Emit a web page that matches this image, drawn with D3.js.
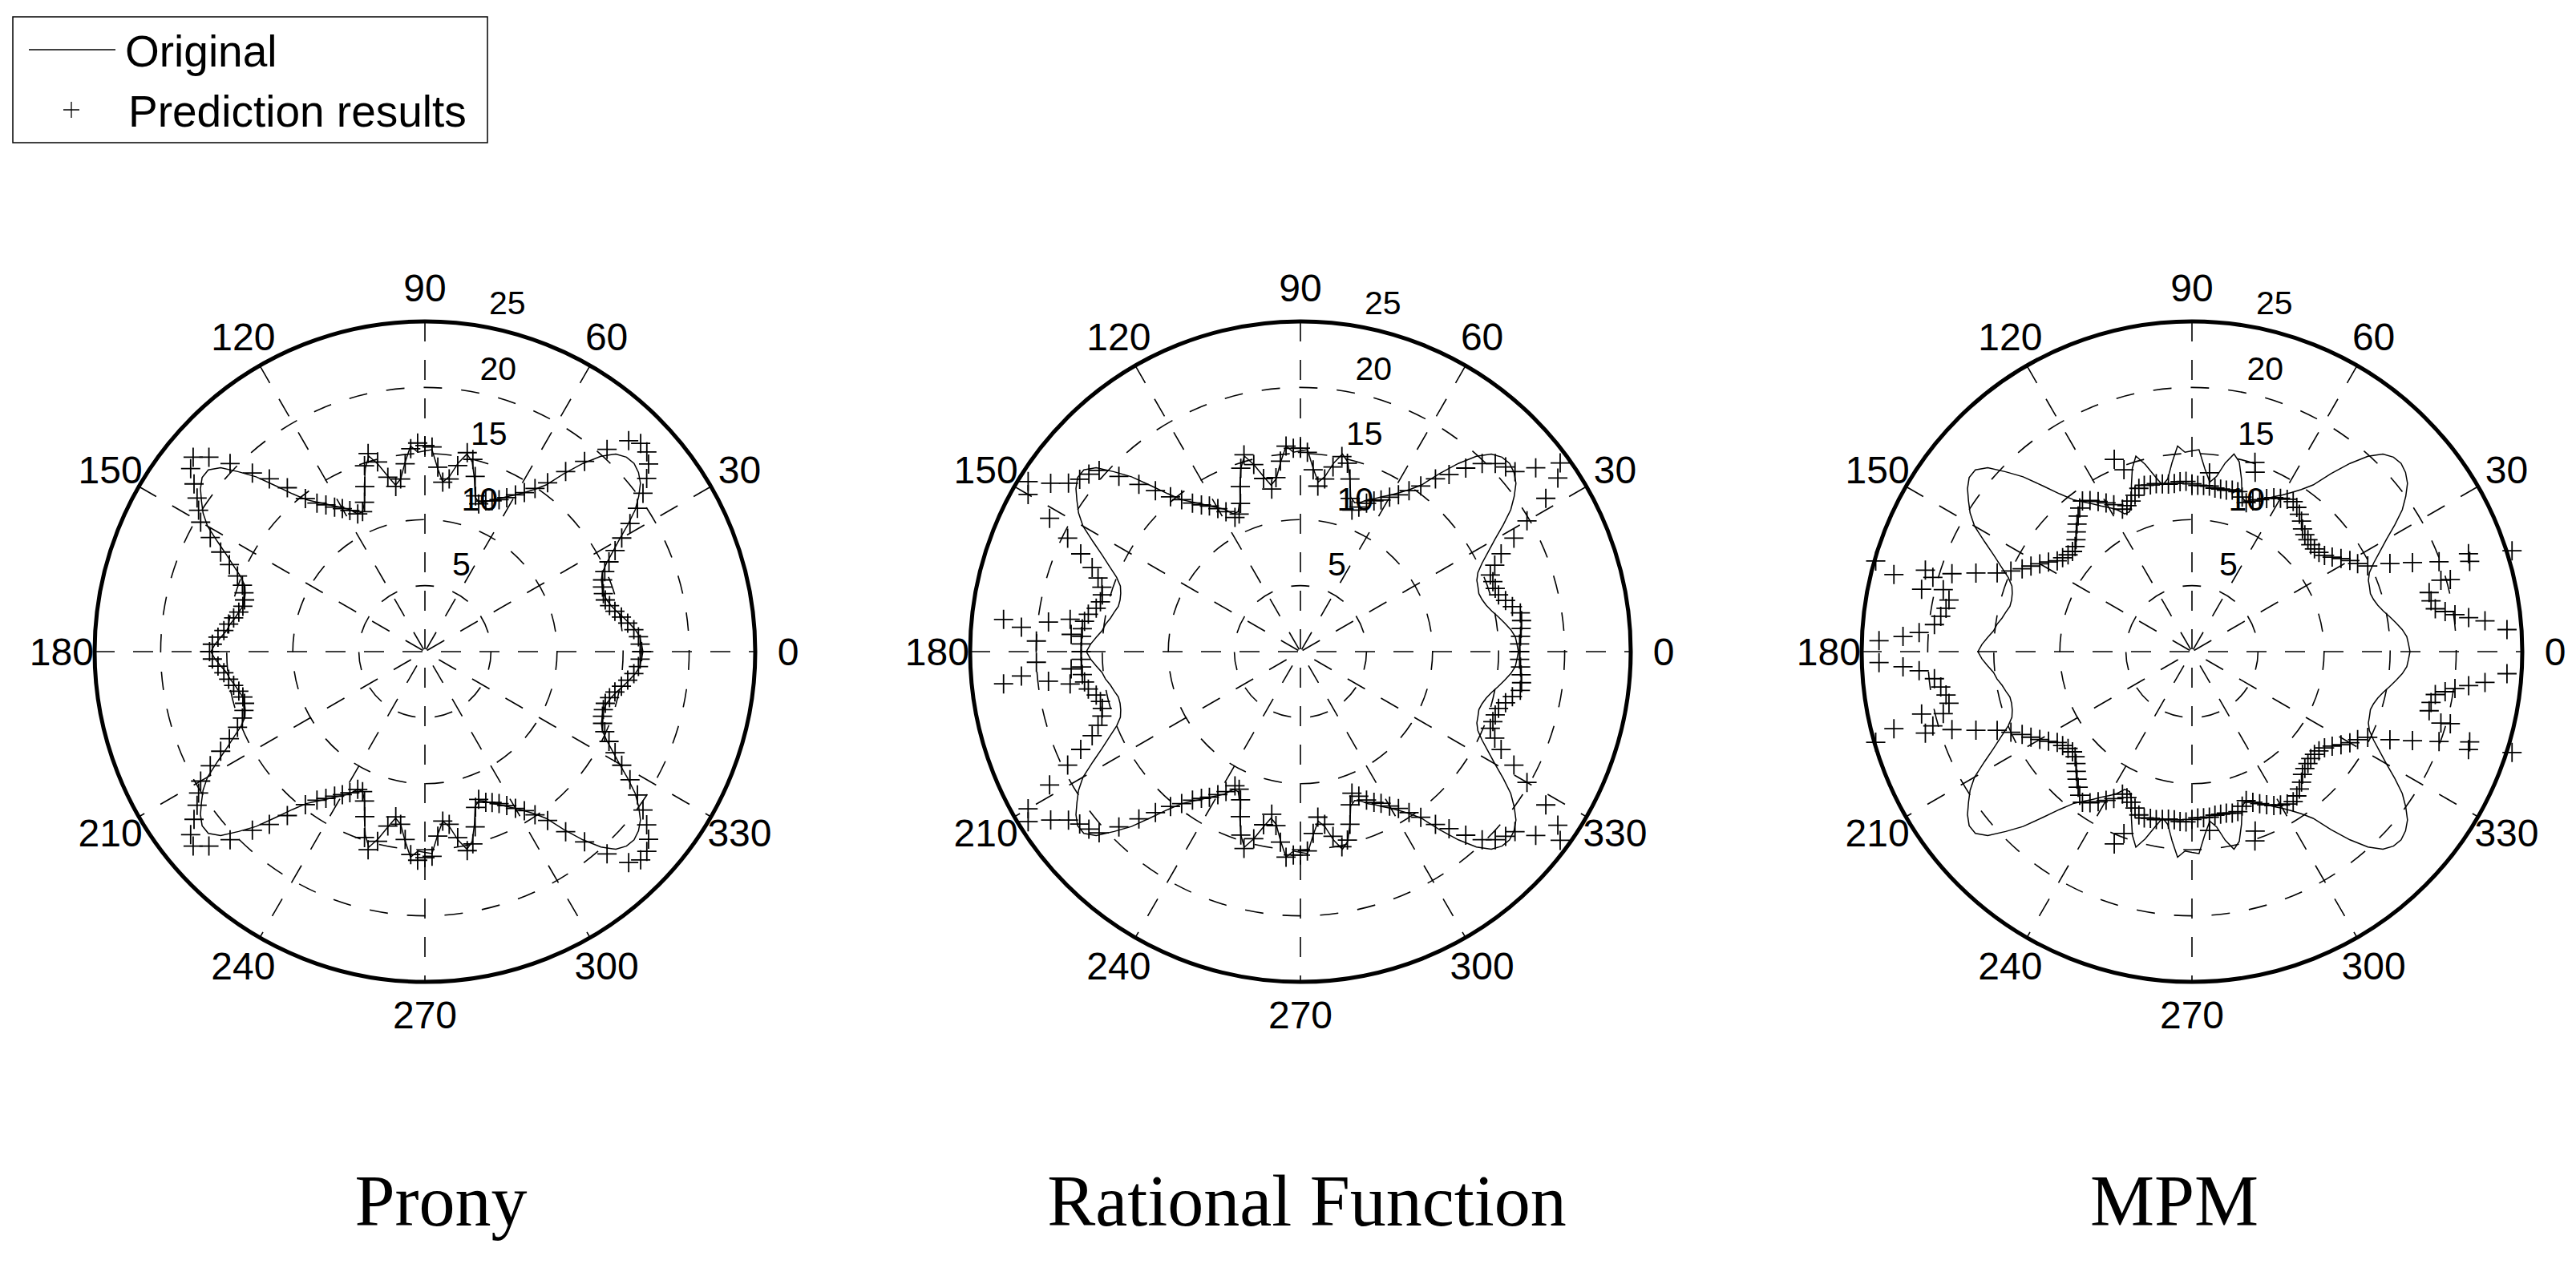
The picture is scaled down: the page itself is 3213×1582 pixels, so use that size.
<!DOCTYPE html>
<html><head><meta charset="utf-8">
<script src="https://cdn.jsdelivr.net/npm/d3@7"></script>
<style>body{margin:0;background:#fff}</style>
</head><body>
<script>
// ---------------- DATA ----------------
const methods = ["Prony", "Rational Function", "MPM"];
const angleTicks = [0, 30, 60, 90, 120, 150, 180, 210, 240, 270, 300, 330];
const ringTicks = [5, 10, 15, 20];
const ringLabels = [5, 10, 15, 20, 25];
const rMax = 25;
const legendLabels = ["Original", "Prediction results"];
// sample angles (degrees), 2-degree step
const sampleAngles = d3.range(0, 360, 2);

const original = [
 16.5,16.4,16.3,16.0,15.6,15.2,14.8,14.5,14.3,14.2,
 14.3,14.4,14.7,15.3,16.1,17.0,18.1,19.2,20.0,20.7,
 21.1,21.3,21.2,20.8,19.9,18.6,17.1,15.6,14.8,14.2,
 13.7,13.3,12.9,12.6,12.2,12.0,12.3,13.6,14.8,15.3,
 14.5,13.4,12.9,13.9,15.3,15.2,
 15.1,15.6,14.4,13.2,12.8,13.6,14.6,15.4,14.6,13.4,
 12.2,11.6,11.6,12.2,12.6,13.0,13.5,14.0,14.6,15.6,
 16.9,18.4,19.6,20.8,21.4,21.4,21.0,20.4,19.8,19.0,
 17.8,16.7,15.8,15.0,14.5,14.3,14.2,14.2,14.4,14.6,
 14.9,15.1,15.5,15.9,16.2,
 15.9,15.5,15.1,14.9,14.6,14.4,14.2,14.2,14.3,14.5,
 15.0,15.8,16.7,17.8,19.0,19.8,20.4,21.0,21.4,21.4,
 20.8,19.6,18.4,16.9,15.6,14.6,14.0,13.5,13.0,12.6,
 12.2,11.6,11.6,12.2,13.4,14.6,15.4,14.6,13.6,12.8,
 13.2,14.4,15.6,15.1,15.2,15.3,13.9,12.9,13.4,14.5,
 15.3,14.8,13.6,12.3,12.0,12.2,12.6,12.9,13.3,13.7,
 14.2,14.8,15.6,17.1,18.6,19.9,20.8,21.2,21.3,21.1,
 20.7,20.0,19.2,18.1,17.0,16.1,15.3,14.7,14.4,14.3,
 14.2,14.3,14.5,14.8,15.2,15.6,16.0,16.3,16.4
];

const pronyPred = [
 16.4,16.3,16.2,15.9,15.5,15.1,14.7,14.4,14.2,14.2,
 14.3,14.5,14.9,15.5,16.3,17.2,18.3,19.4,20.4,21.3,
 22.1,22.6,22.7,22.2,20.6,18.8,17.3,15.8,14.9,14.2,
 13.7,13.2,12.8,12.5,12.3,11.9,12.4,13.8,15.0,15.4,
 14.3,13.2,12.9,14.0,15.5,15.6,
 15.8,15.4,14.3,13.2,12.7,13.5,14.8,15.6,14.8,13.3,
 12.2,11.6,11.6,12.1,12.5,12.9,13.4,13.9,14.7,16.2,
 17.6,18.8,20.5,22.0,22.9,22.5,21.6,20.8,20.2,19.6,
 18.4,17.2,16.2,15.3,14.7,14.4,14.2,14.2,14.4,14.7,
 15.0,15.3,15.7,16.1,16.3,
 16.1,15.7,15.3,15.0,14.7,14.4,14.2,14.2,14.4,14.7,
 15.3,16.2,17.2,18.4,19.6,20.2,20.8,21.6,22.5,22.9,
 22.0,20.5,18.8,17.6,16.2,14.7,13.9,13.4,12.9,12.5,
 12.1,11.6,11.6,12.2,13.3,14.8,15.6,14.8,13.5,12.7,
 13.2,14.3,15.4,15.8,15.6,15.5,14.0,12.9,13.2,14.3,
 15.4,15.0,13.8,12.4,11.9,12.3,12.5,12.8,13.2,13.7,
 14.2,14.9,15.8,17.3,18.8,20.6,22.2,22.7,22.6,22.1,
 21.3,20.4,19.4,18.3,17.2,16.3,15.5,14.9,14.5,14.3,
 14.2,14.2,14.4,14.7,15.1,15.5,15.9,16.2,16.3
];

const rationalPred = [
 16.6,16.6,16.7,16.8,16.9,16.9,16.4,16.0,15.6,15.5,
 15.5,15.5,16.1,16.9,18.3,19.8,21.9,23.5,24.3,22.6,
 21.2,20.9,20.5,19.8,18.7,17.5,16.6,15.5,14.7,14.0,
 13.5,13.0,12.7,12.3,11.8,11.4,12.2,13.6,14.7,15.1,
 14.2,13.2,12.6,13.8,15.1,15.4,
 15.4,15.6,14.5,13.3,12.5,13.4,14.6,15.5,14.6,13.3,
 12.1,11.4,11.3,12.0,12.5,13.0,13.4,13.9,14.6,15.3,
 16.4,17.6,19.1,20.5,20.9,21.2,21.7,22.8,24.3,23.8,
 21.5,19.6,18.2,17.0,16.3,15.8,15.6,15.6,15.8,16.3,
 16.5,16.6,16.6,16.6,16.6,
 16.6,16.6,16.6,16.5,16.3,15.8,15.6,15.6,15.8,16.3,
 17.0,18.2,19.6,21.5,23.8,24.3,22.8,21.7,21.2,20.9,
 20.5,19.1,17.6,16.4,15.3,14.6,13.9,13.4,13.0,12.5,
 12.0,11.3,11.4,12.1,13.3,14.6,15.5,14.6,13.4,12.5,
 13.3,14.5,15.6,15.4,15.4,15.1,13.8,12.6,13.2,14.2,
 15.1,14.7,13.6,12.2,11.4,11.8,12.3,12.7,13.0,13.5,
 14.0,14.7,15.5,16.6,17.5,18.7,19.8,20.5,20.9,21.2,
 22.6,24.3,23.5,21.9,19.8,18.3,16.9,16.1,15.5,15.5,
 15.5,15.6,16.0,16.4,16.9,16.9,16.8,16.7,16.6
];

const mpmPred = [
 null,null,23.9,22.3,20.1,18.7,18.5,18.5,19.6,22.1,
 19.9,18.0,16.4,14.8,14.2,13.8,13.3,12.8,12.4,12.2,
 12.1,12.1,12.2,12.3,12.5,12.9,13.2,13.5,13.7,13.6,
 13.4,13.2,12.9,12.6,12.3,12.0,12.3,12.6,12.6,12.5,
 12.5,12.5,12.6,12.6,12.6,12.7,
 12.9,12.9,12.8,12.8,12.9,13.0,13.0,13.1,13.0,12.6,
 12.3,12.1,12.0,12.6,13.0,13.4,13.8,14.1,13.8,13.4,
 13.0,12.6,12.2,11.9,11.8,11.9,12.1,12.3,12.8,13.3,
 13.8,14.3,15.0,15.9,17.4,19.1,20.4,19.4,18.8,18.9,
 19.2,19.6,20.7,23.7,null,
 23.7,20.7,19.6,19.2,18.9,18.8,19.4,20.4,19.1,17.4,
 15.9,15.0,14.3,13.8,13.3,12.8,12.3,12.1,11.9,11.8,
 11.9,12.2,12.6,13.0,13.4,13.8,14.1,13.8,13.4,13.0,
 12.6,12.0,12.1,12.3,12.6,13.0,13.1,13.0,13.0,12.9,
 12.8,12.8,12.9,12.9,12.7,12.6,12.6,12.6,12.5,12.5,
 12.5,12.6,12.6,12.3,12.0,12.3,12.6,12.9,13.2,13.4,
 13.6,13.7,13.5,13.2,12.9,12.5,12.3,12.2,12.1,12.1,
 12.2,12.4,12.8,13.3,13.8,14.2,14.8,16.4,18.0,19.9,
 22.1,19.6,18.5,18.5,18.7,20.1,22.3,23.9,null
];

// additional prediction points lying off the even-degree grid: [angle, value]
const pronyExtra = [];
const rationalExtra = [
 [172,17.6],[173.3,19.2],[173.8,22.6],[175,21.2],[175.7,17.4],[177.7,20.0],
 [188,17.6],[186.7,19.2],[186.2,22.6],[185,21.2],[184.3,17.4],[182.3,20.0]
];
const mpmExtra = [
 [7,21.1],[9,19.4],[15.6,20.3],[17.5,25.4],[19.5,22.2],[70.6,14.4],[71.6,15.1],[84.4,13.6],
 [110.5,14.7],[112,15.7],[163,21.1],[164,24.9],[165.5,23.3],[167,21.0],[177,21.9],
 [353,21.1],[351,19.4],[344.4,20.3],[342.5,25.4],[340.5,22.2],[289.4,14.4],[288.4,15.1],[275.6,13.6],
 [249.5,14.7],[248,15.7],[197,21.1],[196,24.9],[194.5,23.3],[193,21.0],[183,21.9]
];

// ---------------- LAYOUT ----------------
const W = 3213, H = 1582;
const CY = 813, R = 412;
const panels = [
  {title: methods[0], pred: pronyPred, extra: pronyExtra, cx: 530, tx: 550},
  {title: methods[1], pred: rationalPred, extra: rationalExtra, cx: 1622, tx: 1630},
  {title: methods[2], pred: mpmPred, extra: mpmExtra, cx: 2734, tx: 2712}
];
const SANS = "'Liberation Sans', Arial, sans-serif";
const SERIF = "'Liberation Serif', 'Times New Roman', serif";

const svg = d3.select("body").append("svg")
  .attr("width", W).attr("height", H)
  .style("background", "#fff");
svg.append("rect").attr("width", W).attr("height", H).attr("fill", "#fff");

const rScale = d3.scaleLinear().domain([0, rMax]).range([0, R]);
const toRad = d => d * Math.PI / 180;
const pt = (deg, v) => [rScale(v) * Math.cos(toRad(deg)), -rScale(v) * Math.sin(toRad(deg))];
const plus = "M-12,0H12M0,-12V12";

const lineGen = d3.lineRadial()
  .angle(d => toRad(90 - d[0]))
  .radius(d => rScale(d[1]))
  .curve(d3.curveLinearClosed);

panels.forEach(p => {
  const g = svg.append("g").attr("transform", `translate(${p.cx},${CY})`);

  // dashed rings
  g.selectAll("circle.ring").data(ringTicks).join("circle")
    .attr("class", "ring")
    .attr("r", d => rScale(d))
    .attr("fill", "none").attr("stroke", "#000")
    .attr("stroke-width", 1.6).attr("stroke-dasharray", "23,24");

  // dashed spokes (through centre)
  g.selectAll("line.spoke").data(angleTicks.slice(1, 7)).join("line")
    .attr("class", "spoke")
    .attr("x1", d => pt(d, rMax)[0]).attr("y1", d => pt(d, rMax)[1])
    .attr("x2", d => pt(d + 180, rMax)[0]).attr("y2", d => pt(d + 180, rMax)[1])
    .attr("stroke", "#000").attr("stroke-width", 1.6).attr("stroke-dasharray", "25,23");

  // outer solid circle
  g.append("circle").attr("r", rScale(rMax))
    .attr("fill", "none").attr("stroke", "#000").attr("stroke-width", 5);

  // angle labels
  g.selectAll("text.ang").data(angleTicks).join("text")
    .attr("class", "ang")
    .attr("x", d => pt(d, rMax * 1.1)[0])
    .attr("y", d => pt(d, rMax * 1.1)[1])
    .attr("text-anchor", "middle").attr("dominant-baseline", "central")
    .attr("font-family", SANS).attr("font-size", 48).attr("fill", "#000")
    .text(d => d);

  // ring labels
  g.selectAll("text.rl").data(ringLabels).join("text")
    .attr("class", "rl")
    .attr("x", d => pt(82, d + 0.25)[0] + 22)
    .attr("y", d => pt(82, d + 0.25)[1] - 9)
    .attr("font-family", SANS).attr("font-size", 41).attr("fill", "#000")
    .text(d => d);

  // original curve
  g.append("path")
    .datum(sampleAngles.map((a, i) => [a, original[i]]))
    .attr("d", lineGen)
    .attr("fill", "none").attr("stroke", "#000").attr("stroke-width", 1.5);

  // prediction markers
  const pts = sampleAngles.map((a, i) => [a, p.pred[i]])
    .filter(d => d[1] != null)
    .concat(p.extra);
  g.selectAll("path.mk").data(pts).join("path")
    .attr("class", "mk")
    .attr("transform", d => `translate(${pt(d[0], d[1])[0]},${pt(d[0], d[1])[1]})`)
    .attr("d", plus)
    .attr("fill", "none").attr("stroke", "#000").attr("stroke-width", 1.8);

  // title
  svg.append("text")
    .attr("x", p.tx).attr("y", 1529)
    .attr("text-anchor", "middle")
    .attr("font-family", SERIF).attr("font-size", 90).attr("fill", "#000")
    .text(p.title);
});

// legend
const lg = svg.append("g");
lg.append("rect").attr("x", 16).attr("y", 21).attr("width", 592).attr("height", 157)
  .attr("fill", "#fff").attr("stroke", "#000").attr("stroke-width", 1.5);
lg.append("line").attr("x1", 36).attr("x2", 144).attr("y1", 62).attr("y2", 62)
  .attr("stroke", "#000").attr("stroke-width", 1.3);
lg.append("path").attr("transform", "translate(89,137)").attr("d", "M-10,0H10M0,-10V10")
  .attr("stroke", "#000").attr("stroke-width", 1.3);
lg.selectAll("text").data(legendLabels).join("text")
  .attr("x", (d, i) => i === 0 ? 156 : 160)
  .attr("y", (d, i) => i === 0 ? 83 : 158)
  .attr("font-family", SANS).attr("font-size", 55).attr("fill", "#000")
  .text(d => d);
</script>
</body></html>
